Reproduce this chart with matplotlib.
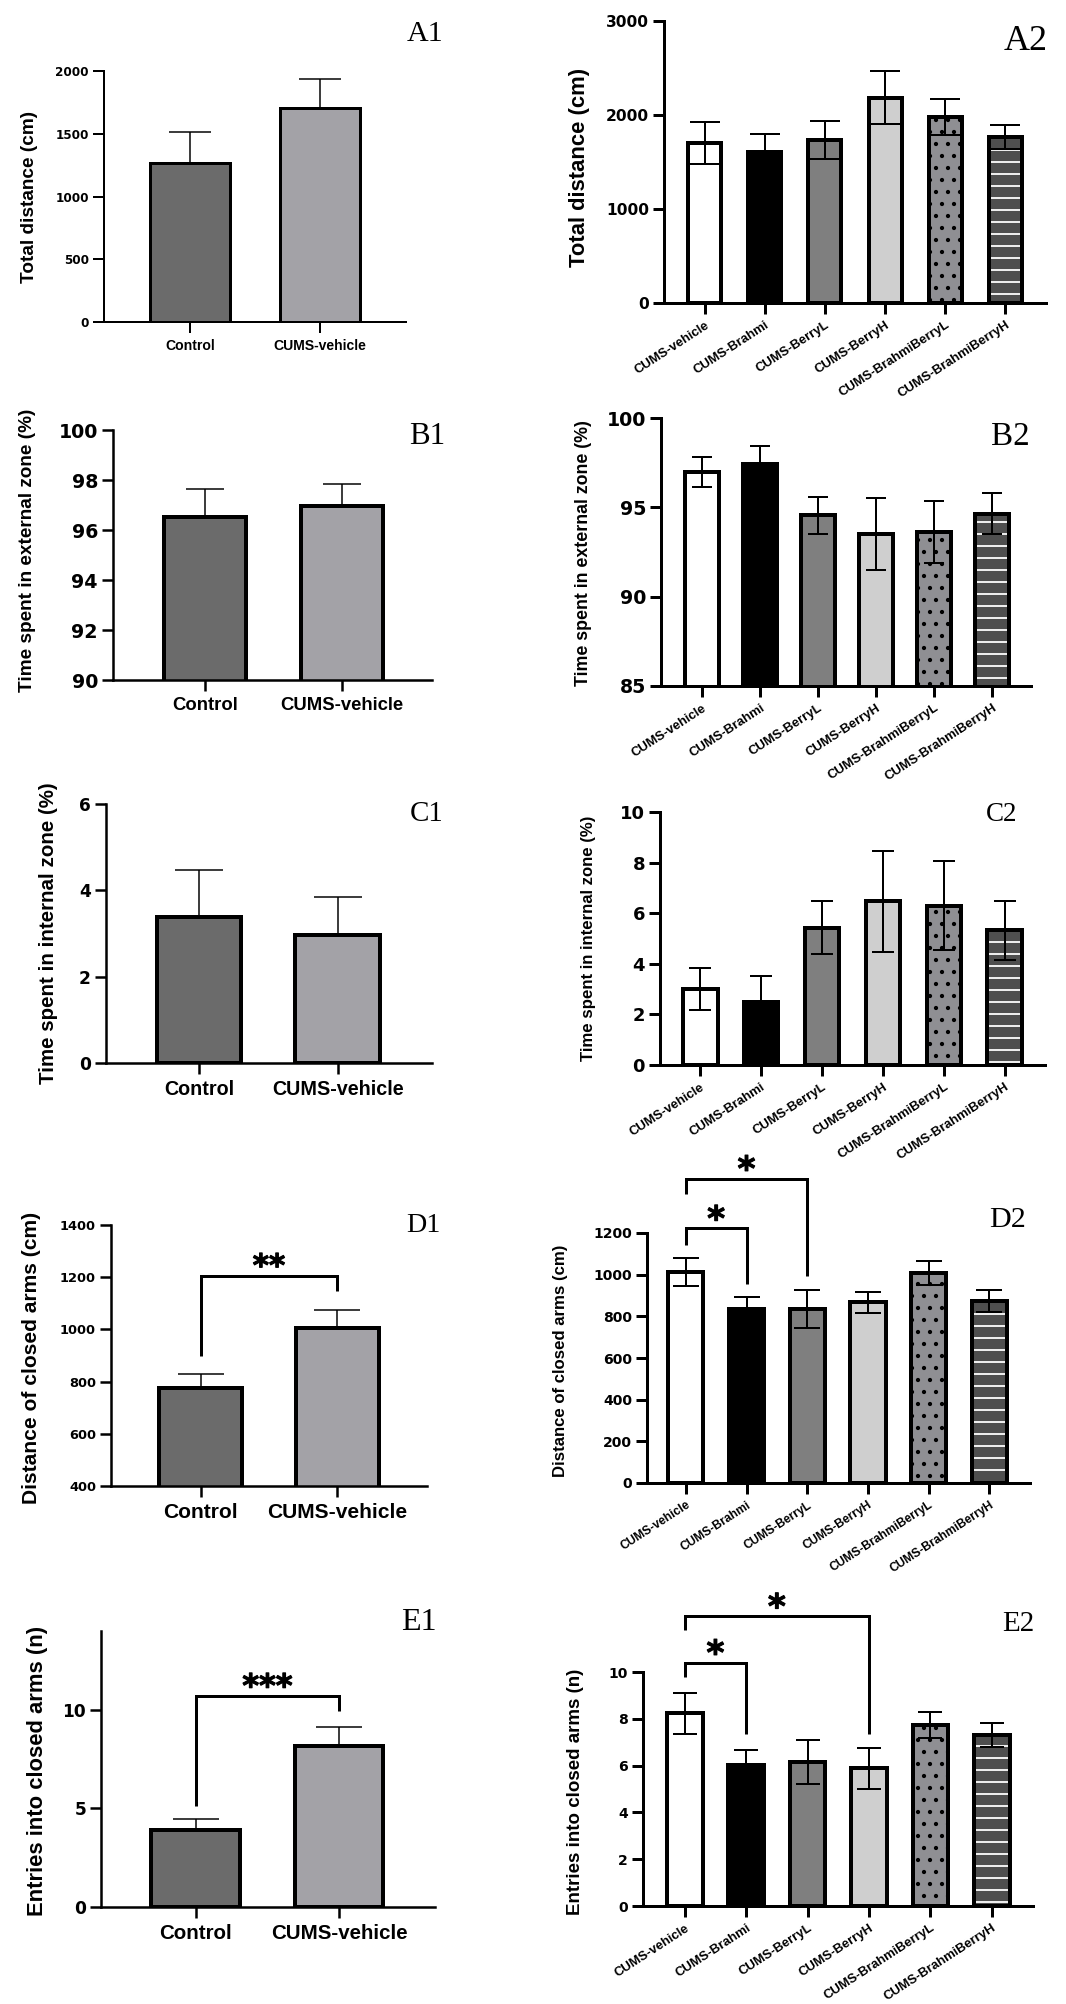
import matplotlib
matplotlib.use("Agg")
import matplotlib.pyplot as plt
import matplotlib.patheffects as pe
import numpy as np

W, H = 1066, 2004
DPI = 72

plt.rcParams['hatch.linewidth'] = 1.8

groups1 = ["Control", "CUMS-vehicle"]
groups2 = ["CUMS-vehicle", "CUMS-Brahmi", "CUMS-BerryL", "CUMS-BerryH",
           "CUMS-BrahmiBerryL", "CUMS-BrahmiBerryH"]

# total distance (cm)
a1_mean = [1267, 1705]
a1_sem = [247, 231]
a2_mean = [1705, 1606, 1734, 2185, 1978, 1766]
a2_sem = [224, 195, 202, 284, 192, 131]

# time in external zone (%)
b1_mean = [96.53, 96.96]
b1_sem = [1.11, 0.88]
b2_mean = [96.97, 97.41, 94.55, 93.50, 93.64, 94.63]
b2_sem = [0.85, 1.02, 1.05, 2.00, 1.74, 1.15]

# time in internal zone (%)
c1_mean = [3.38, 2.96]
c1_sem = [1.09, 0.88]
c2_mean = [3.00, 2.48, 5.42, 6.47, 6.29, 5.33]
c2_sem = [0.84, 1.02, 1.05, 2.00, 1.76, 1.17]

# distance of closed arms (cm)
d1_mean = [774, 1004]
d1_sem = [54, 70]
d2_mean = [1013, 835, 834, 868, 1010, 873]
d2_sem = [65, 56, 92, 50, 58, 52]

# entries into closed arms (n)
e1_mean = [3.90, 8.17]
e1_sem = [0.54, 0.97]
e2_mean = [8.24, 6.04, 6.14, 5.88, 7.74, 7.31]
e2_sem = [0.88, 0.64, 0.94, 0.87, 0.55, 0.52]

# comparisons: (bar i, bar j, left foot, bracket top, right foot, stars)
d1_sig = [(0, 1, 898, 1205, 1148, "**")]
d2_sig = [(0, 1, 1144, 1222, 957, "*"), (0, 2, 1389, 1461, 995, "*")]
e1_sig = [(0, 1, 5.11, 10.7, 9.95, "***")]
e2_sig = [(0, 1, 9.79, 10.4, 7.36, "*"), (0, 3, 11.81, 12.38, 7.36, "*")]

colors1 = ['#6b6b6b', '#a3a2a7']
hatch1 = [None, None]
colors2 = ['white', 'black', '#7f7f7f', '#cfcfcf', '#8f8f93', '#4f4f4f']
hatch2 = [None, None, None, None, '.', '-']

SANS = ['Liberation Sans', 'DejaVu Sans']
NUM = ['DejaVu Sans']

fig = plt.figure(figsize=(W / DPI, H / DPI), dpi=DPI)
fig.patch.set_facecolor('white')


def px_axes(l, t, r, b):
    return fig.add_axes([l / W, 1 - b / H, (r - l) / W, (b - t) / H])


def panel(rect, names, mean, sem, colors, hatches, xlim, width, ylim, yticks,
          ylabel, ylab_xy, ylab_fs, ytick_fs, xlab_fs, tag, tag_xy, tag_fs,
          capsize, bar_lw=4, spine_lw=2.5, err_lw=1.5, ticklen=11,
          one_sided=True, rotate=False, sig=None, star_fs=33):
    ax = px_axes(*rect)
    x = np.arange(len(names))
    for k in range(len(names)):
        if hatches[k] == '-':
            ax.bar(x[k], mean[k], width, color=colors[k], edgecolor='white',
                   hatch='-', linewidth=0, zorder=2)
            ax.bar(x[k], mean[k], width, color='none', edgecolor='black',
                   linewidth=bar_lw, zorder=2.1)
        else:
            ax.bar(x[k], mean[k], width, color=colors[k], edgecolor='black',
                   hatch=hatches[k], linewidth=bar_lw, zorder=2)
    sem = np.array(sem)
    if one_sided:
        yerr = [np.zeros(len(sem)), sem]
    else:
        yerr = sem
    ax.errorbar(x, mean, yerr=yerr, fmt='none', ecolor='black',
                elinewidth=err_lw, capsize=capsize, capthick=err_lw, zorder=3)

    ax.set_xlim(*xlim)
    ax.set_ylim(*ylim)
    for s in ['top', 'right']:
        ax.spines[s].set_visible(False)
    for s in ['left', 'bottom']:
        ax.spines[s].set_linewidth(spine_lw)
    ax.tick_params(width=spine_lw, length=ticklen, direction='out')
    ax.set_yticks(yticks, labels=[str(t) for t in yticks], fontsize=ytick_fs,
                  fontweight='bold', family=NUM)
    ax.tick_params(axis='y', pad=4)
    if rotate:
        ax.set_xticks(x, labels=names, rotation=33, ha='right',
                      rotation_mode='anchor', fontsize=xlab_fs,
                      fontweight='bold', family=SANS)
        ax.tick_params(axis='x', pad=5)
    else:
        ax.set_xticks(x, labels=names, fontsize=xlab_fs, fontweight='bold',
                      family=SANS)
        ax.tick_params(axis='x', pad=6)

    ax.set_ylabel(ylabel, fontsize=ylab_fs, fontweight='bold', family=SANS,
                  va='center', ha='center')
    ax.yaxis.set_label_coords(ylab_xy[0] / W, 1 - ylab_xy[1] / H,
                              transform=fig.transFigure)

    fig.text(tag_xy[0] / W, 1 - tag_xy[1] / H, tag, fontsize=tag_fs,
             family=['Liberation Serif', 'DejaVu Serif'], ha='center',
             va='baseline')

    if sig:
        for i, j, lf, top, rf, stars in sig:
            ax.plot([i, i, j, j], [lf, top, top, rf], color='black', lw=3,
                    clip_on=False, solid_joinstyle='miter',
                    solid_capstyle='butt', zorder=4)
            ax.annotate(stars, xy=((i + j) / 2, top),
                        xytext=(0, 17 - 0.55 * star_fs),
                        textcoords='offset points', ha='center',
                        va='baseline', fontsize=star_fs, fontweight='bold',
                        family=NUM, annotation_clip=False,
                        path_effects=[pe.withStroke(linewidth=1.1,
                                                    foreground='black')])
    return ax


# left column
panel((104, 71, 406, 322), groups1, a1_mean, a1_sem, colors1, hatch1,
      (-0.66, 1.66), 0.62, (0, 2000), [0, 500, 1000, 1500, 2000],
      "Total distance (cm)", (30, 197), 19, 12, 14, "A1", (425, 41), 30,
      capsize=21, bar_lw=3, spine_lw=2)

panel((113, 430, 432, 680), groups1, b1_mean, b1_sem, colors1, hatch1,
      (-0.67, 1.66), 0.60, (90, 100), [90, 92, 94, 96, 98, 100],
      "Time spent in external zone (%)", (28, 550), 19, 19, 18.5,
      "B1", (427, 444), 31, capsize=19)

panel((106, 804, 432, 1063), groups1, c1_mean, c1_sem, colors1, hatch1,
      (-0.67, 1.68), 0.61, (0, 6), [0, 2, 4, 6],
      "Time spent in internal zone (%)", (49, 933), 20.5, 17, 19.8,
      "C1", (427, 821), 29, capsize=24)

panel((111, 1225, 427, 1486), groups1, d1_mean, d1_sem, colors1, hatch1,
      (-0.66, 1.66), 0.61, (400, 1400), [400, 600, 800, 1000, 1200, 1400],
      "Distance of closed arms (cm)", (32, 1358), 21, 13, 21,
      "D1", (423, 1232), 28, capsize=23, sig=d1_sig, star_fs=31)

panel((101, 1631, 435, 1907), groups1, e1_mean, e1_sem, colors1, hatch1,
      (-0.66, 1.67), 0.62, (0, 14), [0, 5, 10],
      "Entries into closed arms (n)", (38, 1771), 22, 17, 20.5,
      "E1", (419, 1630), 32, capsize=23, sig=e1_sig, star_fs=32)

# right column
panel((664, 21, 1046, 303), groups2, a2_mean, a2_sem, colors2, hatch2,
      (-0.68, 5.68), 0.55, (0, 3000), [0, 1000, 2000, 3000],
      "Total distance (cm)", (580, 167), 22, 15.5, 13, "A2", (1026, 50), 36,
      capsize=15, spine_lw=3, err_lw=2, one_sided=False, rotate=True)

panel((661, 418, 1031, 686), groups2, b2_mean, b2_sem, colors2, hatch2,
      (-0.71, 5.67), 0.59, (85, 100), [85, 90, 95, 100],
      "Time spent in external zone (%)", (583, 553), 17.7, 19, 13,
      "B2", (1010, 445), 33, capsize=10, spine_lw=3, err_lw=2,
      one_sided=False, rotate=True)

panel((660, 812, 1045, 1065), groups2, c2_mean, c2_sem, colors2, hatch2,
      (-0.66, 5.66), 0.57, (0, 10), [0, 2, 4, 6, 8, 10],
      "Time spent in internal zone (%)", (589, 938), 16.8, 18, 13,
      "C2", (1002, 821), 27, capsize=11, spine_lw=3, err_lw=2,
      one_sided=False, rotate=True)

panel((647, 1233, 1030, 1483), groups2, d2_mean, d2_sem, colors2, hatch2,
      (-0.64, 5.67), 0.58, (0, 1200), [0, 200, 400, 600, 800, 1000, 1200],
      "Distance of closed arms (cm)", (561, 1361), 16.7, 14, 12,
      "D2", (1008, 1227), 30, capsize=13, spine_lw=3, err_lw=2,
      one_sided=False, rotate=True, sig=d2_sig, star_fs=34)

panel((643, 1672, 1033, 1906), groups2, e2_mean, e2_sem, colors2, hatch2,
      (-0.68, 5.67), 0.58, (0, 10), [0, 2, 4, 6, 8, 10],
      "Entries into closed arms (n)", (575, 1792), 18.8, 14, 13,
      "E2", (1018, 1631), 29, capsize=12, spine_lw=3, err_lw=2,
      one_sided=False, rotate=True, sig=e2_sig, star_fs=34)

fig.savefig("out.png", dpi=DPI, facecolor='white')
